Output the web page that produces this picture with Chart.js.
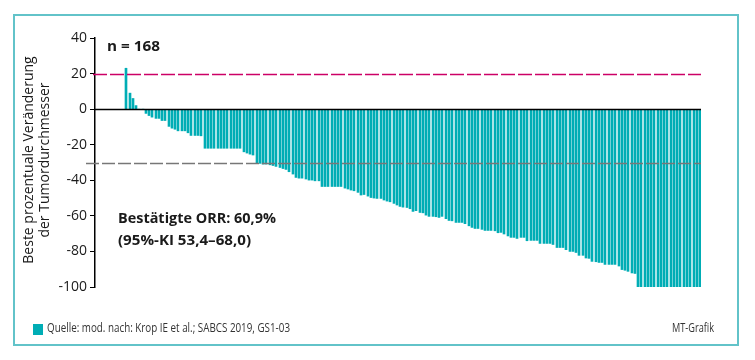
<!DOCTYPE html>
<html lang="de">
<head>
<meta charset="utf-8">
<script src="https://cdn.jsdelivr.net/npm/chart.js@4.4.1/dist/chart.umd.min.js"></script>
<style>
  html, body { margin: 0; padding: 0; background: #fff; }
  body { width: 755px; height: 360px; position: relative; overflow: hidden;
         font-family: "Open Sans", "Noto Sans", sans-serif; color: #1a1a1a; }
  #frame { position: absolute; left: 13px; top: 14px; width: 722px; height: 328px;
           border: 2px solid #62c3c9; }
  #chart { position: absolute; left: 0; top: 0; }
  .txt { position: absolute; white-space: nowrap; line-height: 1; }
  .bold { font-weight: 700; font-size: 15px; }
  #ytitle { position: absolute; left: 36px; top: 160px; font-size: 14px; line-height: 16px;
            text-align: center; white-space: nowrap;
            transform: translate(-50%, -50%) rotate(-90deg); }
  #srcbox { position: absolute; left: 33px; top: 324px; width: 10px; height: 11px; background: #00adb5; }
  .fit { transform-origin: left center; }
</style>
</head>
<body>
<div id="frame"></div>
<canvas id="chart" width="755" height="360"></canvas>
<div id="ytitle">Beste prozentuale Veränderung<br>der Tumordurchmesser</div>
<div class="txt bold fit" id="nLabel" data-w="53" style="left:107px; top:38px;">n = 168</div>
<div class="txt bold fit" id="orr1" data-w="158" style="left:118px; top:210px;">Bestätigte ORR: 60,9%</div>
<div class="txt bold fit" id="orr2" data-w="133" style="left:118px; top:232px;">(95%-KI 53,4–68,0)</div>
<div id="srcbox"></div>
<div class="txt fit" id="source" data-w="243" style="left:47px; top:321px; font-size:13px; color:#333;">Quelle: mod. nach: Krop IE et al.; SABCS 2019, GS1-03</div>
<div class="txt fit" id="credit" data-w="42" style="left:672px; top:321px; font-size:13px; color:#333;">MT-Grafik</div>
<script>
  const changes = [
    23, 9, 6, 2, 0, 0,
    -2.4, -3.6, -4.5, -5.2, -5.2, -6.4, -6.4, -9.7, -10.7, -11.3, -12.2, -12.2,
    -12.2, -13.3, -14.8, -14.8, -14.8, -15,
    -22, -22, -22, -22, -22, -22, -22, -22, -22, -22, -22, -22,
    -24, -24.7, -25.3, -25.8, -30.5, -30.5, -30.9, -30.9, -31.3, -31.7, -32.2, -32.8,
    -33.4, -33.9, -35.2, -36.5, -38.4, -38.8, -38.8, -39.3, -39.9, -39.9, -40.3, -40.3,
    -43.5, -43.5, -43.5, -43.5, -43.5, -43.5, -43.5, -44.4, -44.9, -45.5, -45.9, -46.8,
    -48.3, -48, -48.9, -49.7, -50, -50.2, -50.2, -51.1, -51.7, -52.1, -53, -53.9,
    -54.7, -55.1, -55.3, -56, -57.5, -57.1, -58.1, -58.3, -59.6,
    -60.3, -60.3, -60.5, -60.9, -60.3, -61.6, -62.6, -62.8, -63.7, -63.7, -63.7, -64.4,
    -65.6, -66.5, -67.1, -67.1, -67.6, -68.2, -68.2, -68.2, -68.4, -69.5, -69.3, -70.2,
    -71.3, -72.1, -72.1, -72.7, -72.1, -72.1, -74,
    -73.8, -73.8, -73.8, -75.5, -75.5, -75.5, -75.5, -76.1, -77.8, -77.8, -77.8, -79,
    -80, -80, -80.6, -82.2, -82.2, -83.7, -83.9, -85.6, -85.8, -86.2, -86.2, -87.3,
    -87.3, -87.3, -87.3, -88.2, -90.2, -90.6, -91.2, -92.1, -92.4,
    -100, -100, -100, -100, -100, -100, -100, -100, -100, -100,
    -100, -100, -100, -100, -100, -100, -100, -100, -100, -100
  ];
  const yTicks = [-100, -80, -60, -40, -20, 0, 20, 40];
  const progressionLine = 20;   // +20 % Progression
  const responseLine = -30;     // -30 % partielles Ansprechen

  // Texte auf die Breite im Original stauchen
  document.querySelectorAll(".fit").forEach((el) => {
    const target = Number(el.dataset.w);
    const w = el.getBoundingClientRect().width;
    if (w > 0) el.style.transform = `scaleX(${target / w})`;
  });

  // Balken auf ganze Pixel legen, damit die Lücken sichtbar bleiben
  const snapBars = {
    id: "snapBars",
    beforeDatasetsDraw(chart) {
      chart.getDatasetMeta(0).data.forEach((bar) => {
        bar.x = Math.round(bar.x);
        bar.width = 2;
      });
    }
  };

  const refLines = {
    id: "refLines",
    afterDatasetsDraw(chart) {
      const { ctx, chartArea: a, scales } = chart;
      const y = scales.y;
      ctx.save();
      // Nulllinie
      ctx.strokeStyle = "#000";
      ctx.lineWidth = 1.5;
      ctx.beginPath();
      ctx.moveTo(a.left, Math.round(y.getPixelForValue(0)) + 0.5);
      ctx.lineTo(a.right, Math.round(y.getPixelForValue(0)) + 0.5);
      ctx.stroke();
      // +20 %
      ctx.setLineDash([14, 3]);
      ctx.strokeStyle = "#cc0066";
      ctx.lineWidth = 1.3;
      ctx.beginPath();
      ctx.moveTo(a.left - 2, Math.round(y.getPixelForValue(progressionLine)) + 0.5);
      ctx.lineTo(a.right, Math.round(y.getPixelForValue(progressionLine)) + 0.5);
      ctx.stroke();
      // -30 %
      ctx.setLineDash([13, 3]);
      ctx.strokeStyle = "#777";
      ctx.lineWidth = 1.5;
      ctx.beginPath();
      ctx.moveTo(a.left - 9, Math.round(y.getPixelForValue(responseLine)) + 0.5);
      ctx.lineTo(a.right, Math.round(y.getPixelForValue(responseLine)) + 0.5);
      ctx.stroke();
      ctx.restore();
    }
  };

  new Chart(document.getElementById("chart"), {
    type: "bar",
    data: {
      datasets: [{
        data: changes.map((v, i) => ({ x: i + 1, y: v })),
        backgroundColor: "#00adb5",
        borderWidth: 0,
        barThickness: 2
      }]
    },
    options: {
      responsive: false,
      animation: false,
      devicePixelRatio: 1,
      layout: { padding: { top: 38, left: 0, right: 54, bottom: 73 } },
      plugins: { legend: { display: false }, tooltip: { enabled: false } },
      scales: {
        x: { type: "linear", min: -8.6, max: 177.3, offset: false, display: false, grid: { offset: false } },
        y: {
          min: -100,
          max: 40,
          afterBuildTicks: (scale) => { scale.ticks = yTicks.map((v) => ({ value: v })); },
          afterFit: (scale) => { scale.width = 95; },
          ticks: {
            color: "#1a1a1a",
            padding: 3,
            font: { family: "'Open Sans', sans-serif", size: 14 }
          },
          grid: { drawOnChartArea: false, drawTicks: true, tickLength: 5, color: "#000", lineWidth: 1 },
          border: { display: true, color: "#000", width: 1.5 }
        }
      }
    },
    plugins: [snapBars, refLines]
  });
</script>
</body>
</html>
